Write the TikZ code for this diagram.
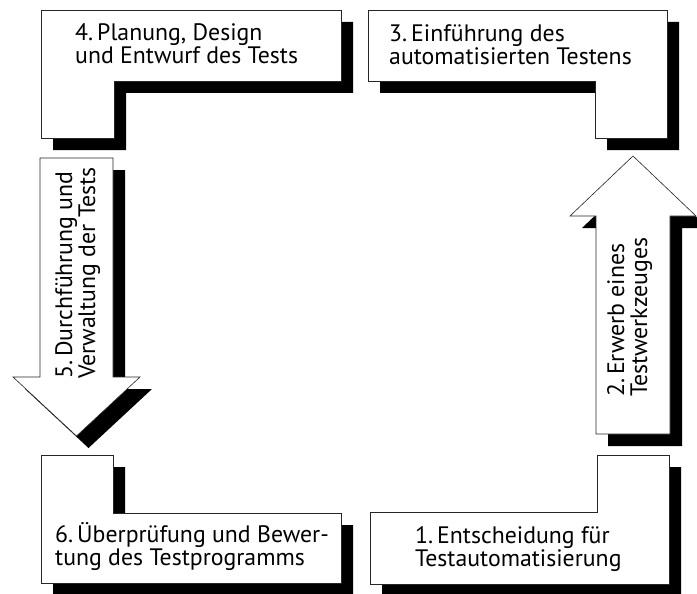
\documentclass[tikz,border=0pt]{standalone}
\usepackage{fontspec}
\setmainfont{PT Sans}
\begin{document}
\begin{tikzpicture}[x=1pt,y=-1pt,
  panel/.style={fill=white,draw=black!85,line width=0.6pt},
  shade/.style={fill=black,draw=none},
  lbl/.style={inner sep=0pt,anchor=base west,align=left,font=\fontsize{23.8}{23}\selectfont}]
\clip (0,0) rectangle (697,594);
\fill[white] (0,0) rectangle (697,594);
% shapes
\def\boxfour{(41,10) -- (341,10) -- (341,81) -- (114,81) -- (114,138) -- (41,138) -- cycle}
\def\boxthree{(368,10) -- (667,10) -- (667,138) -- (595,138) -- (595,81) -- (368,81) -- cycle}
\def\arrowtwo{(596,434) -- (596,216) -- (570,216) -- (633,156) -- (696,216) -- (670,216) -- (670,434) -- cycle}
\def\arrowfive{(40,158) -- (113,158) -- (113,377) -- (140,377) -- (76.5,436) -- (13,377) -- (40,377) -- cycle}
\def\boxsix{(41,455) -- (113,455) -- (113,513) -- (341,513) -- (341,583) -- (41,583) -- cycle}
\def\boxone{(597,455) -- (669,455) -- (669,584) -- (370,584) -- (370,512) -- (597,512) -- cycle}
% shadows
\begin{scope}[shift={(12,12)}]
  \fill[shade] \boxfour;
  \fill[shade] \boxthree;
  \fill[shade] \arrowtwo;
  \fill[shade] \arrowfive;
  \fill[shade] \boxsix;
  \fill[shade] \boxone;
\end{scope}
% panels
\filldraw[panel] \boxfour;
\filldraw[panel] \boxthree;
\filldraw[panel] \arrowtwo;
\filldraw[panel] \arrowfive;
\filldraw[panel] \boxsix;
\filldraw[panel] \boxone;
% labels (anchor = baseline of the last line)
\node[lbl] (t4) at (75,64) {4.\,Planung, Design\\und Entwurf des Tests};
\node[lbl] (t3) at (389,65) {3.\,Einführung des\\automatisierten Testens};
\node[lbl] (t6) at (55,565) {6.\,Überprüfung und Bewer-\\tung des Testprogramms};
\node[lbl] (t1) at (415,566) {1.\,Entscheidung für\\Testautomatisierung};
\node[lbl,rotate=90] (t2) at (647,397) {2.\,Erwerb eines\\Testwerkzeuges};
\node[lbl,rotate=90] (t5) at (95,379) {5.\,Durchführung und\\Verwaltung der Tests};
\end{tikzpicture}
\end{document}
